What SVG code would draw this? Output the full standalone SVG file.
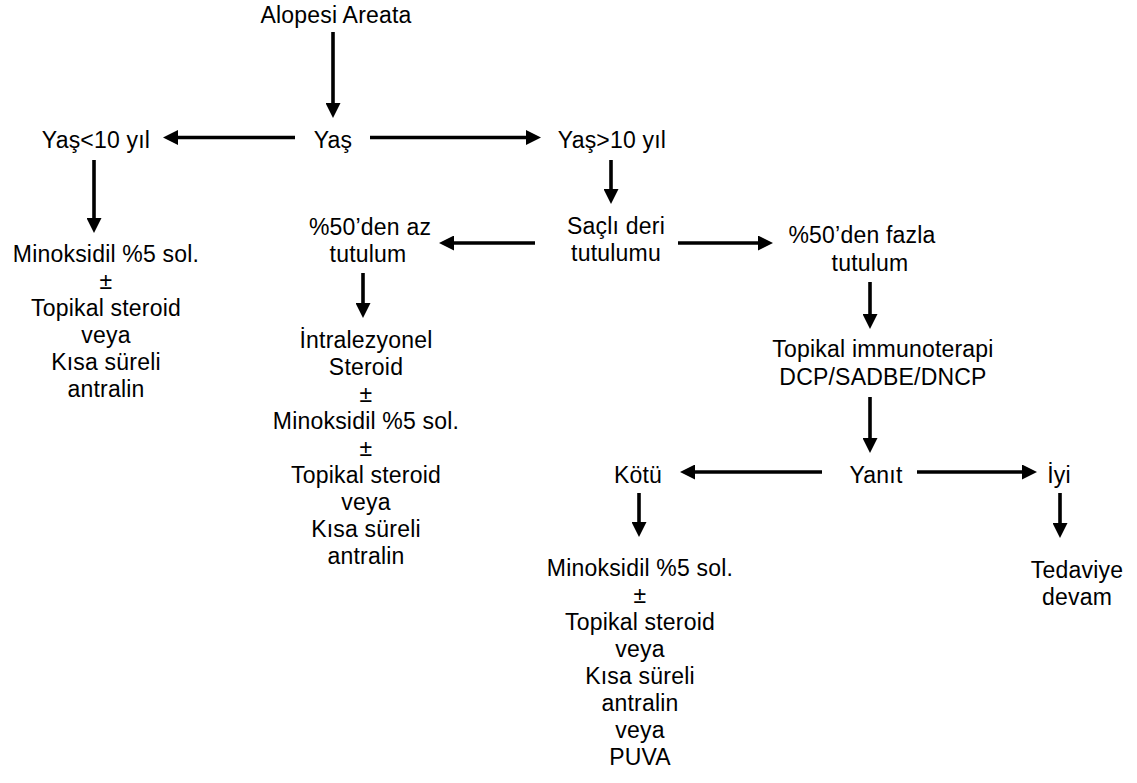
<svg xmlns="http://www.w3.org/2000/svg" width="1137" height="783" viewBox="0 0 1137 783">
<style>
text{font-family:"Liberation Sans",Arial,sans-serif;font-size:23px;letter-spacing:0.2px;text-anchor:middle;fill:#000}
.c line{stroke:#000;stroke-width:3.6;fill:none;marker-end:url(#ah)}
</style>
<defs>
<marker id="ah" markerUnits="userSpaceOnUse" markerWidth="15" markerHeight="15" refX="5" refY="7.5" orient="auto" viewBox="0 0 15 15">
<path d="M0,0 L15,7.5 L0,15 Z" fill="#000"/>
</marker>
</defs>
<rect width="1137" height="783" fill="#fff"/>
<g class="c" id="connectors">
<line x1="333" y1="32" x2="333" y2="108"/>
<line x1="295" y1="137.5" x2="173" y2="137.5"/>
<line x1="370" y1="137.5" x2="531" y2="137.5"/>
<line x1="94" y1="160" x2="94" y2="223"/>
<line x1="611" y1="160" x2="611" y2="194"/>
<line x1="535" y1="243" x2="449" y2="243"/>
<line x1="678" y1="243" x2="763" y2="243"/>
<line x1="363" y1="273" x2="363" y2="308"/>
<line x1="870" y1="282" x2="870" y2="319"/>
<line x1="870" y1="397" x2="870" y2="443"/>
<line x1="822" y1="472" x2="690" y2="472"/>
<line x1="917" y1="472" x2="1027" y2="472"/>
<line x1="639" y1="493" x2="639" y2="527"/>
<line x1="1060" y1="493" x2="1060" y2="528"/>
</g>
<g id="n-alopesi"><text x="336" y="23">Alopesi Areata</text></g>
<g id="n-yas"><text x="333" y="148">Yaş</text></g>
<g id="n-yas-lt10"><text x="96" y="148">Yaş&lt;10 yıl</text></g>
<g id="n-yas-gt10"><text x="612" y="148">Yaş&gt;10 yıl</text></g>
<g id="n-tedavi-1">
<text x="106" y="262">Minoksidil %5 sol.</text>
<text x="106" y="289">±</text>
<text x="106" y="316">Topikal steroid</text>
<text x="106" y="343">veya</text>
<text x="106" y="370">Kısa süreli</text>
<text x="106" y="397">antralin</text>
</g>
<g id="n-sacli"><text x="616" y="234">Saçlı deri</text><text x="616" y="261">tutulumu</text></g>
<g id="n-az"><text x="370" y="235">%50’den az</text><text x="368" y="262">tutulum</text></g>
<g id="n-fazla"><text x="862" y="243">%50’den fazla</text><text x="870" y="271">tutulum</text></g>
<g id="n-tedavi-2">
<text x="366" y="348">İntralezyonel</text>
<text x="366" y="375">Steroid</text>
<text x="366" y="402">±</text>
<text x="366" y="429">Minoksidil %5 sol.</text>
<text x="366" y="456">±</text>
<text x="366" y="483">Topikal steroid</text>
<text x="366" y="510">veya</text>
<text x="366" y="537">Kısa süreli</text>
<text x="366" y="564">antralin</text>
</g>
<g id="n-immuno"><text x="883" y="357">Topikal immunoterapi</text><text x="883" y="385">DCP/SADBE/DNCP</text></g>
<g id="n-yanit"><text x="876" y="483">Yanıt</text></g>
<g id="n-kotu"><text x="638" y="483">Kötü</text></g>
<g id="n-iyi"><text x="1059" y="483">İyi</text></g>
<g id="n-devam"><text x="1077" y="578">Tedaviye</text><text x="1077" y="605">devam</text></g>
<g id="n-tedavi-3">
<text x="640" y="576">Minoksidil %5 sol.</text>
<text x="640" y="603">±</text>
<text x="640" y="630">Topikal steroid</text>
<text x="640" y="657">veya</text>
<text x="640" y="684">Kısa süreli</text>
<text x="640" y="711">antralin</text>
<text x="640" y="738">veya</text>
<text x="640" y="765">PUVA</text>
</g>
</svg>
